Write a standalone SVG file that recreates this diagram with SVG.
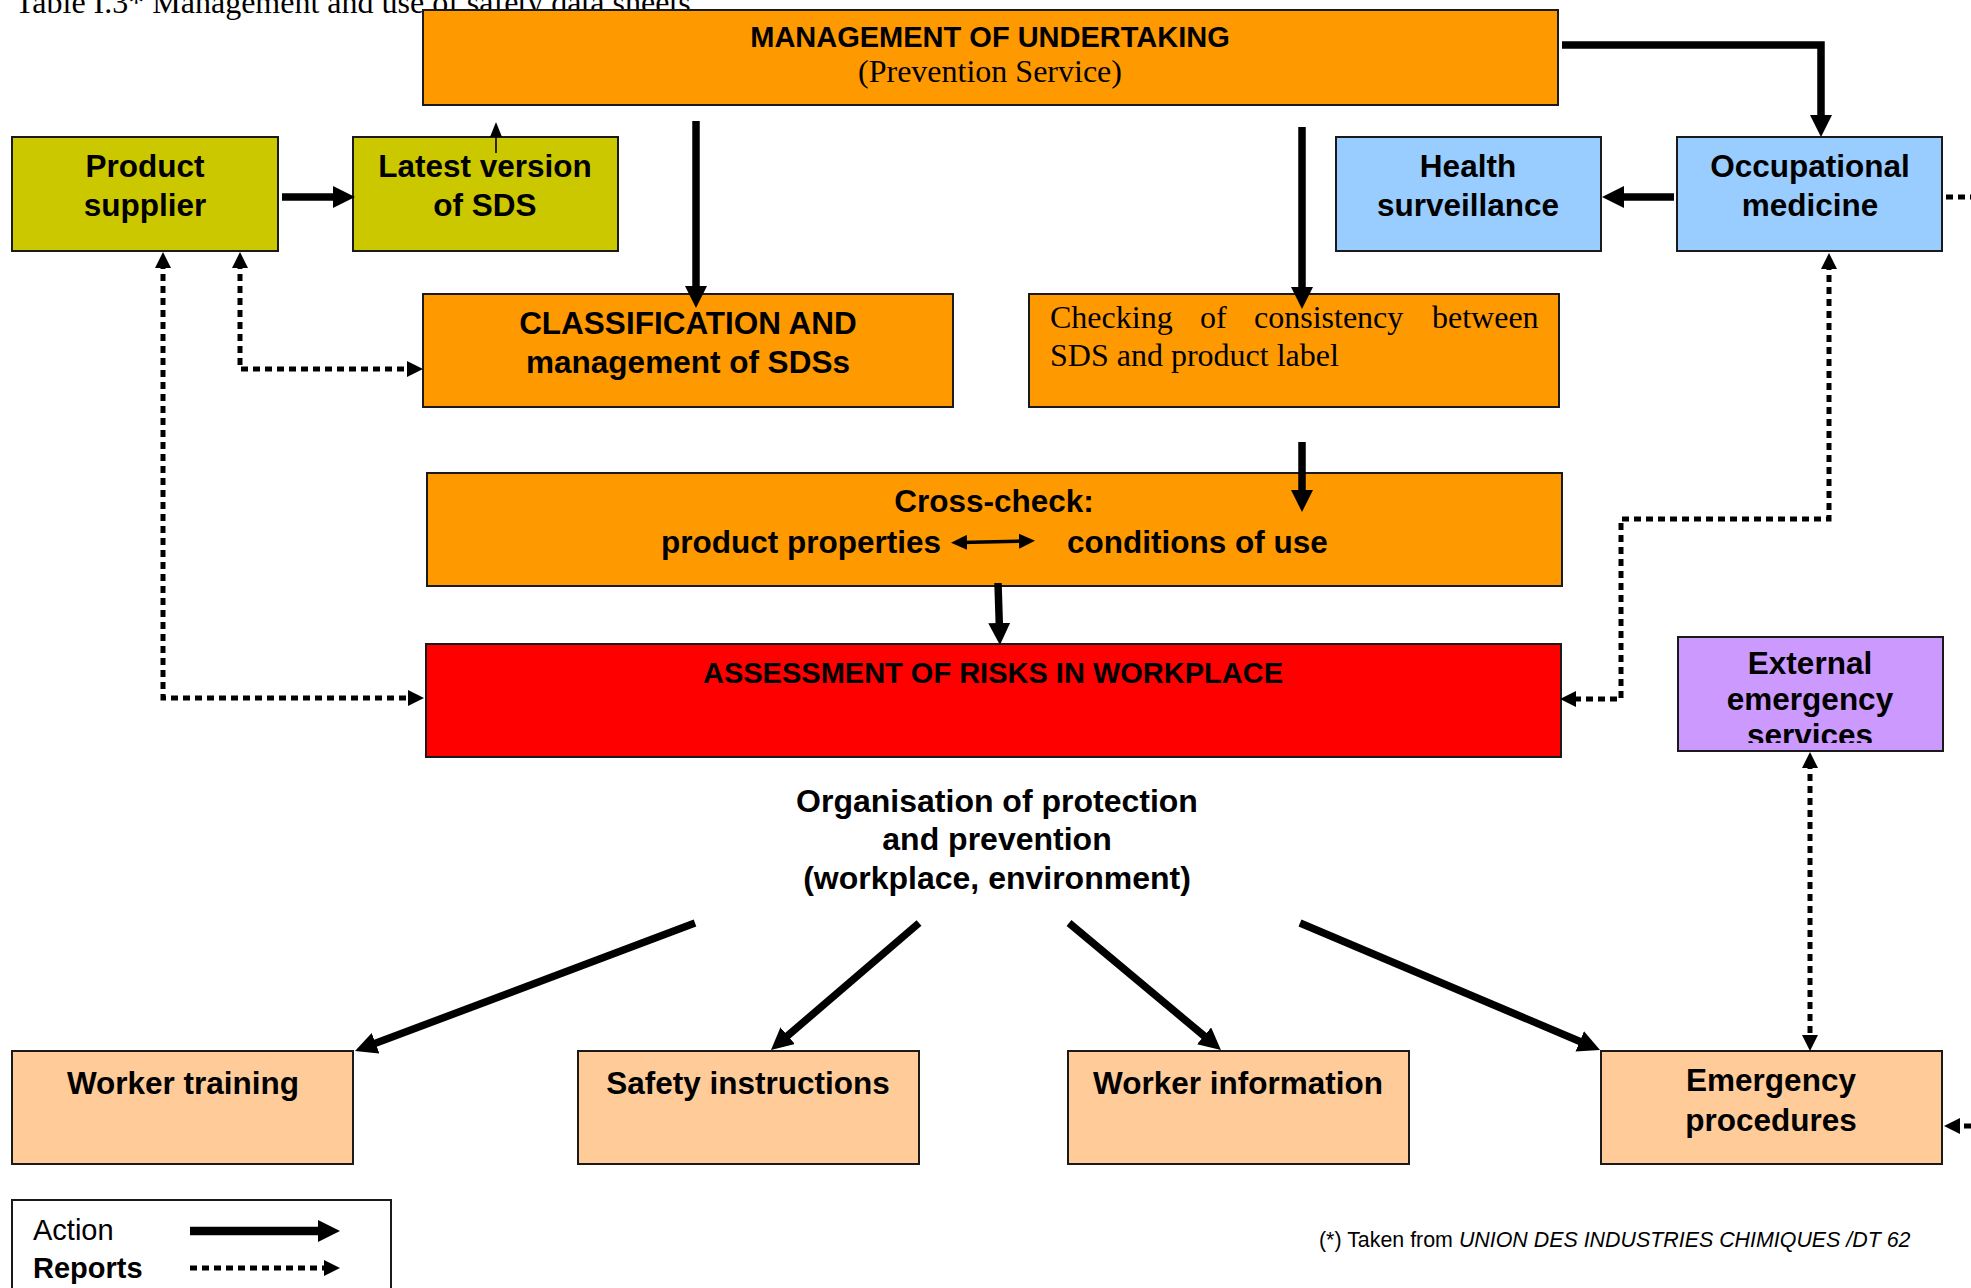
<svg xmlns="http://www.w3.org/2000/svg" width="1971" height="1288" viewBox="0 0 1971 1288">
<style>
.box{stroke:#1a1a1a;stroke-width:2}
.t{font-family:"Liberation Sans",Arial,sans-serif;font-weight:bold;font-size:31.5px;fill:#000;text-anchor:middle}
.big{font-size:29px}
.serif{font-family:"Liberation Serif","Times New Roman",serif;font-size:32px;fill:#000}
.act{fill:none;stroke:#000;stroke-width:7.5;stroke-linejoin:miter}
.rep{fill:none;stroke:#000;stroke-width:5;stroke-dasharray:7 5}
.thin{fill:none;stroke:#000;stroke-width:1.6}
.mid{fill:none;stroke:#000;stroke-width:3.5}
</style>
<defs>
<marker id="ah" markerUnits="userSpaceOnUse" markerWidth="22" markerHeight="22" refX="8" refY="11" orient="auto-start-reverse"><path d="M0,0 L22,11 L0,22 z" fill="#000"/></marker>
<marker id="dh" markerUnits="userSpaceOnUse" markerWidth="16" markerHeight="16" refX="6" refY="8" orient="auto-start-reverse"><path d="M0,0 L16,8 L0,16 z" fill="#000"/></marker>
<marker id="th" markerUnits="userSpaceOnUse" markerWidth="15" markerHeight="12" refX="5" refY="6" orient="auto-start-reverse"><path d="M0,0 L15,6 L0,12 z" fill="#000"/></marker>
<marker id="mh" markerUnits="userSpaceOnUse" markerWidth="16" markerHeight="15" refX="6" refY="7.5" orient="auto-start-reverse"><path d="M0,0 L16,7.5 L0,15 z" fill="#000"/></marker>
<clipPath id="extClip"><rect x="1678" y="637" width="265" height="106"/></clipPath>
</defs>

<text class="serif" x="15" y="13">Table I.3* Management and use of safety data sheets</text>

<g id="management">
<rect class="box" x="423" y="10" width="1135" height="95" fill="#FF9900"/>
<text class="t big" x="990" y="47">MANAGEMENT OF UNDERTAKING</text>
<text class="serif" x="990" y="82" text-anchor="middle">(Prevention Service)</text>
</g>

<g id="product-supplier">
<rect class="box" x="12" y="137" width="266" height="114" fill="#CCC800"/>
<text class="t" x="145" y="177">Product</text>
<text class="t" x="145" y="216">supplier</text>
</g>

<g id="latest-sds">
<rect class="box" x="353" y="137" width="265" height="114" fill="#CCC800"/>
<text class="t" x="485" y="177">Latest version</text>
<text class="t" x="485" y="216">of SDS</text>
</g>

<g id="health-surveillance">
<rect class="box" x="1336" y="137" width="265" height="114" fill="#99CCFF"/>
<text class="t" x="1468" y="177">Health</text>
<text class="t" x="1468" y="216">surveillance</text>
</g>

<g id="occupational-medicine">
<rect class="box" x="1677" y="137" width="265" height="114" fill="#99CCFF"/>
<text class="t" x="1810" y="177">Occupational</text>
<text class="t" x="1810" y="216">medicine</text>
</g>

<g id="classification">
<rect class="box" x="423" y="294" width="530" height="113" fill="#FF9900"/>
<text class="t" x="688" y="334">CLASSIFICATION AND</text>
<text class="t" x="688" y="373">management of SDSs</text>
</g>

<g id="checking">
<rect class="box" x="1029" y="294" width="530" height="113" fill="#FF9900"/>
<text class="serif" y="328"><tspan x="1050">Checking</tspan><tspan x="1200">of</tspan><tspan x="1254">consistency</tspan><tspan x="1432">between</tspan></text>
<text class="serif" x="1050" y="366">SDS and product label</text>
</g>

<g id="cross-check">
<rect class="box" x="427" y="473" width="1135" height="113" fill="#FF9900"/>
<text class="t" x="994" y="512">Cross-check:</text>
<text class="t" style="text-anchor:end" x="941" y="553">product properties</text>
<text class="t" style="text-anchor:start" x="1067" y="553">conditions of use</text>
</g>

<g id="assessment">
<rect class="box" x="426" y="644" width="1135" height="113" fill="#FF0000"/>
<text class="t big" x="993" y="683">ASSESSMENT OF RISKS IN WORKPLACE</text>
</g>

<g id="external-emergency">
<rect class="box" x="1678" y="637" width="265" height="114" fill="#CC99FF"/>
<g clip-path="url(#extClip)">
<text class="t" x="1810" y="674">External</text>
<text class="t" x="1810" y="710">emergency</text>
<text class="t" x="1810" y="746">services</text>
</g>
</g>

<g id="organisation">
<text class="t" style="font-size:32px" x="997" y="812">Organisation of protection</text>
<text class="t" style="font-size:32px" x="997" y="850">and prevention</text>
<text class="t" style="font-size:32px" x="997" y="889">(workplace, environment)</text>
</g>

<g id="worker-training">
<rect class="box" x="12" y="1051" width="341" height="113" fill="#FFCC99"/>
<text class="t" x="183" y="1094">Worker training</text>
</g>

<g id="safety-instructions">
<rect class="box" x="578" y="1051" width="341" height="113" fill="#FFCC99"/>
<text class="t" x="748" y="1094">Safety instructions</text>
</g>

<g id="worker-information">
<rect class="box" x="1068" y="1051" width="341" height="113" fill="#FFCC99"/>
<text class="t" x="1238" y="1094">Worker information</text>
</g>

<g id="emergency-procedures">
<rect class="box" x="1601" y="1051" width="341" height="113" fill="#FFCC99"/>
<text class="t" x="1771" y="1091">Emergency</text>
<text class="t" x="1771" y="1131">procedures</text>
</g>

<g id="connectors">
<path class="act" d="M696,121 V294" marker-end="url(#ah)"/>
<path class="act" d="M1302,127 V295" marker-end="url(#ah)"/>
<path class="act" d="M1562,45 H1821 V123" marker-end="url(#ah)"/>
<path class="act" d="M1674,197 H1616" marker-end="url(#ah)"/>
<path class="act" d="M282,197 H341" marker-end="url(#ah)"/>
<path class="act" d="M1302,442 V498" marker-end="url(#ah)"/>
<path class="act" d="M998,583 L999.5,631" marker-end="url(#ah)"/>
<path class="act" d="M695,923 L368.1,1046.1" marker-end="url(#ah)"/>
<path class="act" d="M919,923 L781.6,1040.9" marker-end="url(#ah)"/>
<path class="act" d="M1069,923 L1210.2,1041" marker-end="url(#ah)"/>
<path class="act" d="M1300,923 L1587.1,1044.5" marker-end="url(#ah)"/>
<path class="thin" d="M496,153 V132" marker-end="url(#th)"/>
<path class="mid" d="M961,542.5 L1025,541" marker-start="url(#mh)" marker-end="url(#mh)"/>
<path class="rep" d="M163,262 V698 H414" marker-start="url(#dh)" marker-end="url(#dh)"/>
<path class="rep" d="M240,262 V369 H413" marker-start="url(#dh)" marker-end="url(#dh)"/>
<path class="rep" d="M1829,263 V519 H1621 V699 H1570" marker-start="url(#dh)" marker-end="url(#dh)"/>
<path class="rep" d="M1810,762 V1041" marker-start="url(#dh)" marker-end="url(#dh)"/>
<path class="rep" d="M1946,197 H1971"/>
<path class="rep" d="M1971,1126 H1954" marker-end="url(#dh)"/>
</g>

<g id="legend">
<rect x="12" y="1200" width="379" height="110" fill="#fff" stroke="#1a1a1a" stroke-width="2"/>
<text x="33" y="1240" style="font-family:'Liberation Sans',Arial,sans-serif;font-size:29px">Action</text>
<text x="33" y="1278" style="font-family:'Liberation Sans',Arial,sans-serif;font-size:29px;font-weight:bold">Reports</text>
<path class="act" style="stroke-width:8.5" d="M190,1231 H326" marker-end="url(#ah)"/>
<path class="rep" d="M190,1268 H330" marker-end="url(#dh)"/>
</g>

<text x="1319" y="1247" style="font-family:'Liberation Sans',Arial,sans-serif;font-size:21.4px">(*) Taken from <tspan font-style="italic">UNION DES INDUSTRIES CHIMIQUES /DT 62</tspan></text>
</svg>
